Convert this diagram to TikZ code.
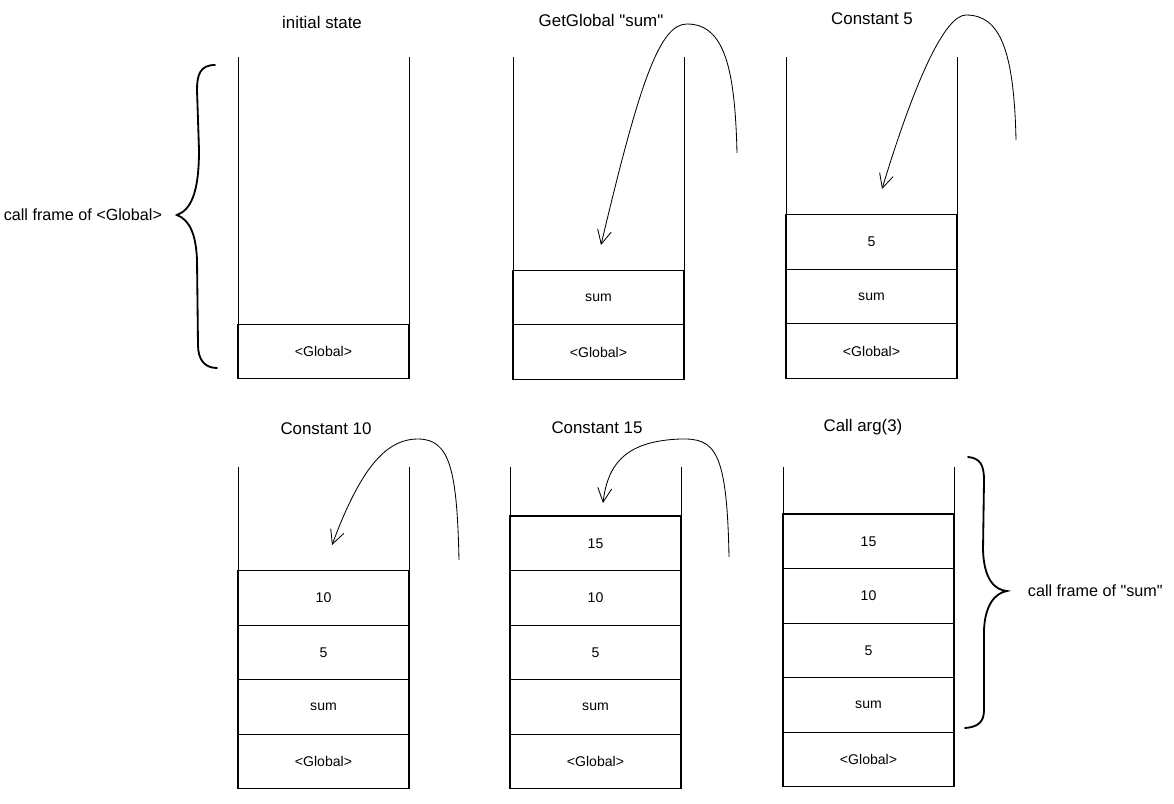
\documentclass[tikz,border=0pt]{standalone}
\usepackage{fontspec}
\setmainfont{Liberation Sans}[Ligatures=TeXOff]
\usetikzlibrary{arrows.meta,positioning}

\tikzset{
  cell/.style={draw, line width=1pt, minimum width=4.275cm, minimum height=1.3625cm,
    inner sep=0pt, outer sep=0pt, font=\fontsize{10}{12}\selectfont},
  wall/.style={line width=0.6pt},
  push/.style={line width=0.6pt, -{Straight Barb[length=3.5mm,width=3.5mm]}},
  steptitle/.style={font=\fontsize{12}{14}\selectfont},
  curly/.style={line width=1.3pt, line cap=round},
  curlylabel/.style={font=\fontsize{11.5}{14}\selectfont}
}

\begin{document}
\begin{tikzpicture}[x=0.025cm, y=-0.025cm]
  \useasboundingbox (0,0) rectangle (1174,803);
  \coordinate (toprow) at (0,57);
  \coordinate (botrow) at (0,467);

  % Stack 1: initial state
  \node[steptitle] (t1) at (322,22) {initial state};
  \node[cell] (s1g) at (323.5,351.5) {<Global>};
  \draw[wall] (s1g.north west) -- (s1g.north west |- toprow);
  \draw[wall] (s1g.north east) -- (s1g.north east |- toprow);

  % Call frame of <Global>
  \coordinate (lbtip) at (177,215);
  \draw[curly] (215,65) .. controls (200,65) and (197,75) .. (197,90) -- (199,150)
    .. controls (199,195) and (190,210) .. (lbtip)
    .. controls (190,220) and (196,235) .. (197,260) -- (198,345)
    .. controls (198,360) and (205,368) .. (217,368);
  \node[curlylabel, left=2.5mm of lbtip] (lbl) {call frame of <Global>};

  % Stack 2: GetGlobal "sum"
  \node[steptitle] (t2) at (601,20) {GetGlobal "sum"};
  \node[cell] (s2g) at (598.5,352) {<Global>};
  \node[cell, above=0pt of s2g] (s2s) {sum};
  \draw[wall] (s2s.north west) -- (s2s.north west |- toprow);
  \draw[wall] (s2s.north east) -- (s2s.north east |- toprow);
  \coordinate (a2s) at (737,153);
  \coordinate (a2t) at (601,245);
  \draw[push] (a2s) .. controls (735,70) and (725,24) .. (687,24)
    .. controls (660,24) and (640,80) .. (a2t);

  % Stack 3: Constant 5
  \node[steptitle] (t3) at (872,19) {Constant 5};
  \node[cell] (s3g) at (871.5,351) {<Global>};
  \node[cell, above=0pt of s3g] (s3s) {sum};
  \node[cell, above=0pt of s3s] (s35) {5};
  \draw[wall] (s35.north west) -- (s35.north west |- toprow);
  \draw[wall] (s35.north east) -- (s35.north east |- toprow);
  \coordinate (a3s) at (1016,140);
  \coordinate (a3t) at (882,189);
  \draw[push] (a3s) .. controls (1014,50) and (1000,15) .. (966,15)
    .. controls (945,15) and (915,80) .. (a3t);

  % Stack 4: Constant 10
  \node[steptitle] (t4) at (326,429) {Constant 10};
  \node[cell] (s4g) at (323.5,761.5) {<Global>};
  \node[cell, above=0pt of s4g] (s4s) {sum};
  \node[cell, above=0pt of s4s] (s45) {5};
  \node[cell, above=0pt of s45] (s410) {10};
  \draw[wall] (s410.north west) -- (s410.north west |- botrow);
  \draw[wall] (s410.north east) -- (s410.north east |- botrow);
  \coordinate (a4s) at (459,560);
  \coordinate (a4t) at (332,545);
  \draw[push] (a4s) .. controls (457,470) and (450,439) .. (418,439)
    .. controls (385,439) and (360,470) .. (a4t);

  % Stack 5: Constant 15
  \node[steptitle] (t5) at (597,428) {Constant 15};
  \node[cell] (s5g) at (595.5,761.5) {<Global>};
  \node[cell, above=0pt of s5g] (s5s) {sum};
  \node[cell, above=0pt of s5s] (s55) {5};
  \node[cell, above=0pt of s55] (s510) {10};
  \node[cell, above=0pt of s510] (s515) {15};
  \draw[wall] (s515.north west) -- (s515.north west |- botrow);
  \draw[wall] (s515.north east) -- (s515.north east |- botrow);
  \coordinate (a5s) at (729,557);
  \coordinate (a5t) at (603,503);
  \draw[push] (a5s) .. controls (727,450) and (715,438) .. (680,439)
    .. controls (630,441) and (608,460) .. (a5t);

  % Stack 6: Call arg(3)
  \node[steptitle] (t6) at (863,427) {Call arg(3)};
  \node[cell] (s6g) at (868.5,759.5) {<Global>};
  \node[cell, above=0pt of s6g] (s6s) {sum};
  \node[cell, above=0pt of s6s] (s65) {5};
  \node[cell, above=0pt of s65] (s610) {10};
  \node[cell, above=0pt of s610] (s615) {15};
  \draw[wall] (s615.north west) -- (s615.north west |- botrow);
  \draw[wall] (s615.north east) -- (s615.north east |- botrow);

  % Call frame of "sum"
  \coordinate (rbtip) at (1007,591);
  \draw[curly] (968,457) .. controls (980,458) and (984,465) .. (984,480) -- (983,550)
    .. controls (984,580) and (995,590) .. (rbtip)
    .. controls (995,593) and (985,605) .. (984,630) -- (984,710)
    .. controls (984,722) and (978,727) .. (965,728);
  \node[curlylabel, right=4mm of rbtip] (rbl) {call frame of "sum"};
\end{tikzpicture}
\end{document}
